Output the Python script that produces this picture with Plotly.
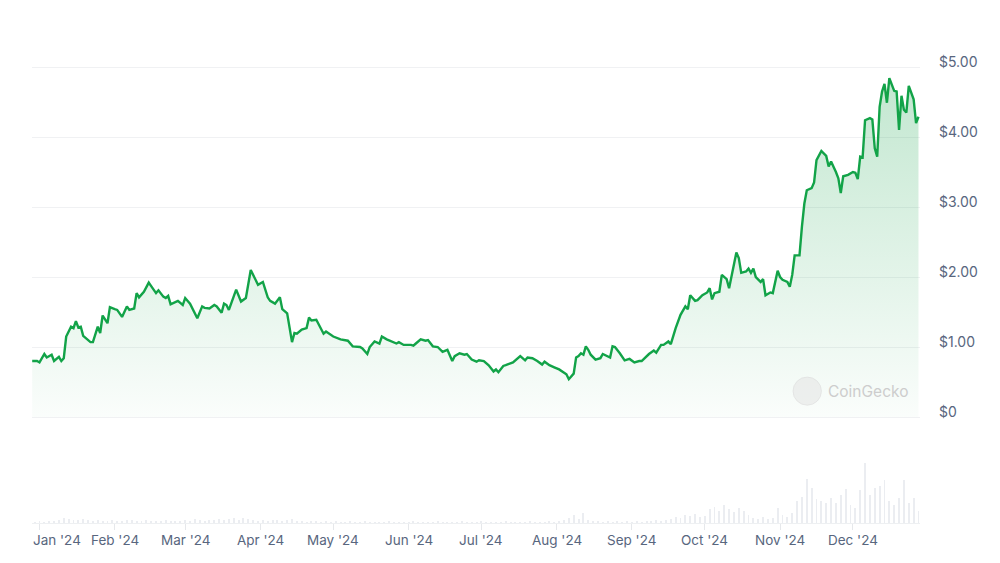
import pandas as pd
import plotly.graph_objects as go

# ---- data ----
# days counted from 2024-01-01 (negative = late Dec 2023)
price_day = [
    -3, -1, 0, 2, 3, 5, 6, 8, 9, 10, 11, 13, 14, 15, 16, 17, 18, 19, 21, 22, 24, 25, 26, 28, 29,
    31, 32, 34, 36, 37, 39, 40, 41, 43, 45, 46, 48, 49, 51, 52, 53, 54, 57, 59, 60, 62, 65, 67, 68,
    70, 72, 73, 75, 76, 77, 78, 81, 83, 85, 87, 88, 90, 92, 94, 95, 97, 99, 100, 102, 104, 105, 106,
    108, 110, 111, 112, 114, 116, 117, 118, 121, 124, 127, 129, 132, 133, 135, 136, 138, 140,
    141, 143, 145, 147, 148, 150, 153, 154, 155, 157, 159, 160, 162, 164, 166, 168, 170, 171, 173,
    175, 176, 178, 180, 181, 183, 185, 187, 188, 189, 191, 192, 194, 195, 198, 200, 201, 203, 205,
    207, 208, 210, 212, 214, 217, 218,
    220, 221, 222, 223, 224, 225, 226, 227, 229, 231, 232, 234, 235, 236, 237, 239, 241, 243, 245,
    247, 248, 251, 253, 254, 256, 257, 259, 260, 262, 264, 265, 266, 267, 268, 270, 271, 273, 275,
    276, 277, 278, 280, 281, 283, 284, 287, 288, 289, 291, 292, 293, 294, 295, 297, 298, 299, 301,
    302, 304, 305, 306, 308, 309, 310, 311,
    313, 314, 315, 316, 318, 319, 320, 322, 323, 324, 325, 326, 328, 329, 330, 331, 333, 335, 336,
    337, 338, 339, 340, 342, 343, 344, 345, 346, 347, 348, 349, 350, 352, 353, 354, 355, 356, 357,
    358, 360, 361, 362,
]
price_usd = [
    0.80, 0.80, 0.78, 0.90, 0.85, 0.89, 0.80, 0.86, 0.80, 0.84, 1.15, 1.29, 1.27, 1.37, 1.28, 1.29,
    1.16, 1.13, 1.07, 1.07, 1.29, 1.20, 1.45, 1.34, 1.57,
    1.54, 1.53, 1.43, 1.58, 1.53, 1.55, 1.77, 1.71, 1.79, 1.92, 1.87, 1.77, 1.81, 1.72, 1.70, 1.73,
    1.61, 1.66, 1.60, 1.70, 1.62, 1.41, 1.58, 1.56,
    1.55, 1.60, 1.58, 1.49, 1.62, 1.60, 1.53, 1.82, 1.65, 1.70, 2.10, 2.03, 1.89, 1.93, 1.71, 1.66,
    1.62, 1.71, 1.54, 1.48, 1.07, 1.20, 1.19,
    1.25, 1.27, 1.42, 1.38, 1.39, 1.27, 1.19, 1.22, 1.15, 1.11, 1.09, 1.01, 1.00, 0.98, 0.90, 1.00,
    1.08, 1.05,
    1.15, 1.11, 1.08, 1.05, 1.07, 1.03, 1.03, 1.02, 1.05, 1.11, 1.09, 1.10, 1.01, 1.00, 0.93, 0.96,
    0.80, 0.87, 0.91,
    0.89, 0.90, 0.82, 0.79, 0.81, 0.80, 0.74, 0.65, 0.68, 0.64, 0.73, 0.74, 0.76, 0.78, 0.87, 0.81,
    0.85, 0.84, 0.80,
    0.75, 0.79, 0.74, 0.71, 0.68, 0.61, 0.54,
    0.62, 0.85, 0.87, 0.91, 0.89, 1.01, 0.96, 0.89, 0.82, 0.84, 0.90, 0.86, 0.85, 1.01, 1.00, 0.91,
    0.81, 0.83, 0.78,
    0.80, 0.80, 0.90, 0.95, 0.92, 1.03, 1.03, 1.08, 1.04, 1.27, 1.46, 1.52, 1.58, 1.54, 1.74, 1.66,
    1.67, 1.74, 1.78,
    1.84, 1.68, 1.77, 1.79, 2.03, 1.97, 1.84, 2.35, 2.27, 2.06, 2.08, 2.12, 2.06, 2.12, 2.00, 1.93,
    1.97, 1.74, 1.78,
    1.77, 2.09, 2.00, 1.96, 1.93, 1.86, 2.03, 2.31,
    2.31, 2.72, 3.05, 3.24, 3.27, 3.35, 3.67, 3.80, 3.77, 3.73, 3.58, 3.65, 3.50, 3.41, 3.20, 3.44,
    3.46, 3.50, 3.49,
    3.40, 3.72, 3.71, 4.24, 4.27, 4.25, 3.84, 3.72, 4.43, 4.65, 4.76, 4.49, 4.84, 4.66, 4.65, 4.10,
    4.59, 4.39, 4.35,
    4.73, 4.54, 4.20, 4.29,
]

# trading volume, one estimate every second day from 2023-12-30 (relative units)
volume_start = "2023-12-30"
volume = [
    1, 2, 1, 2, 2, 3, 5, 4, 3, 3,
    4, 3, 2, 3, 2, 2, 3, 2, 2, 3,
    3, 2, 2, 3, 2, 2, 2, 3, 2, 2,
    2, 3, 2, 4, 3, 2, 3, 3, 4, 3,
    4, 5, 3, 5, 4, 3, 2, 3, 2, 3,
    3, 2, 3, 4, 2, 2, 1, 2, 2, 1,
    2, 1, 2, 1, 1, 2, 1, 1, 2, 1,
    1, 1, 1, 2, 1, 1, 1, 1, 2, 1,
    1, 1, 1, 2, 1, 1, 1, 1, 2, 1,
    1, 1, 2, 1, 1, 1, 1, 2, 1, 1,
    1, 1, 2, 1, 1, 1, 2, 1, 2, 3,
    5, 8, 4, 10, 3, 2, 2, 1, 2, 1,
    2, 1, 2, 1, 2, 1, 2, 2, 3, 2,
    3, 4, 6, 5, 8, 7, 9, 6, 7, 14,
    16, 12, 18, 14, 11, 15, 12, 8, 5, 4,
    6, 4, 5, 15, 8, 6, 10, 22, 26, 44,
    35, 24, 22, 20, 25, 20, 28, 34, 18, 15,
    33, 60, 28, 35, 37, 43, 22, 18, 25, 43,
    20, 25, 12,
]

price_ticks = [0, 1, 2, 3, 4, 5]
price_tick_text = ["$0", "$1.00", "$2.00", "$3.00", "$4.00", "$5.00"]

month_ticks = ["2024-01-01", "2024-02-01", "2024-03-01", "2024-04-01", "2024-05-01", "2024-06-01",
               "2024-07-01", "2024-08-01", "2024-09-01", "2024-10-01", "2024-11-01", "2024-12-01"]
month_labels = ["Jan '24", "Feb '24", "Mar '24", "Apr '24", "May '24", "Jun '24",
                "Jul '24", "Aug '24", "Sep '24", "Oct '24", "Nov '24", "Dec '24"]

price_dates = pd.Timestamp("2024-01-01") + pd.to_timedelta(price_day, unit="D")
volume_dates = pd.date_range(volume_start, periods=len(volume), freq="2D")

GREEN = "#12a348"
TICK = "#58667e"
FONT = "Inter, Roboto, sans-serif"

fig = go.Figure()

fig.add_trace(go.Bar(
    x=volume_dates, y=volume, yaxis="y",
    marker=dict(color="rgba(222,225,231,0.6)", line=dict(width=0)),
    width=0.8 * 86400000, hoverinfo="skip", showlegend=False,
))

fig.add_trace(go.Scatter(
    x=price_dates, y=price_usd, yaxis="y2", mode="lines",
    line=dict(color=GREEN, width=2.4),
    fill="tozeroy",
    fillgradient=dict(
        type="vertical",
        colorscale=[[0, "rgba(22,163,74,0.02)"], [1, "rgba(22,163,74,0.26)"]],
        start=0, stop=max(price_usd),
    ),
    showlegend=False,
))

# right-hand price labels sit just above their grid lines
label_annotations = [
    dict(text=t, x=1, xref="paper", y=v, yref="y2", xanchor="left", yanchor="middle",
         xshift=17, yshift=6, showarrow=False, font=dict(family=FONT, size=14, color=TICK))
    for v, t in zip(price_ticks, price_tick_text)
]

# month labels under the ticks; the first one is kept inside the plot's left edge
month_annotations = []
for i, (d, t) in enumerate(zip(month_ticks, month_labels)):
    if i == 0:
        month_annotations.append(dict(
            text=t, x=0, xref="paper", y=0, yref="paper", xanchor="left", yanchor="middle",
            xshift=-1, yshift=-17, showarrow=False, font=dict(family=FONT, size=13.5, color=TICK)))
    else:
        month_annotations.append(dict(
            text=t, x=d, xref="x", y=0, yref="paper", xanchor="center", yanchor="middle",
            yshift=-17, showarrow=False, font=dict(family=FONT, size=13.5, color=TICK)))

fig.update_layout(
    width=1000, height=563,
    margin=dict(l=32, r=80, t=30, b=40),
    paper_bgcolor="white", plot_bgcolor="white",
    font=dict(family=FONT, size=13, color=TICK),
    bargap=0,
    xaxis=dict(
        type="date",
        range=["2023-12-28 22:00", "2024-12-28 15:00"],
        tickvals=month_ticks, showticklabels=False,
        ticks="outside", ticklen=6, tickcolor="#e6e8eb",
        showline=True, linecolor="#eef0f2", linewidth=1,
        showgrid=False, zeroline=False,
    ),
    yaxis=dict(
        range=[0, 493], showgrid=False, zeroline=False,
        showticklabels=False, fixedrange=True,
    ),
    yaxis2=dict(
        overlaying="y", side="right",
        range=[-1.514, 5.529],
        tickvals=price_ticks, showticklabels=False,
        showgrid=True, gridcolor="#f0f1f3", gridwidth=1,
        zeroline=False, showline=False, ticks="",
    ),
    shapes=[dict(
        type="circle", xref="paper", yref="paper",
        x0=0.857, x1=0.889, y0=0.239, y1=0.296,
        fillcolor="rgba(228,228,228,0.55)", line=dict(color="rgba(220,220,220,0.6)", width=1),
        layer="above",
    )],
    annotations=label_annotations + month_annotations + [dict(
        text="CoinGecko", xref="paper", yref="paper",
        x=0.894, y=0.267, xanchor="left", yanchor="middle", showarrow=False,
        font=dict(family=FONT, size=15.5, color="#cdcdcd"),
    )],
)

fig.write_html("out.html")
